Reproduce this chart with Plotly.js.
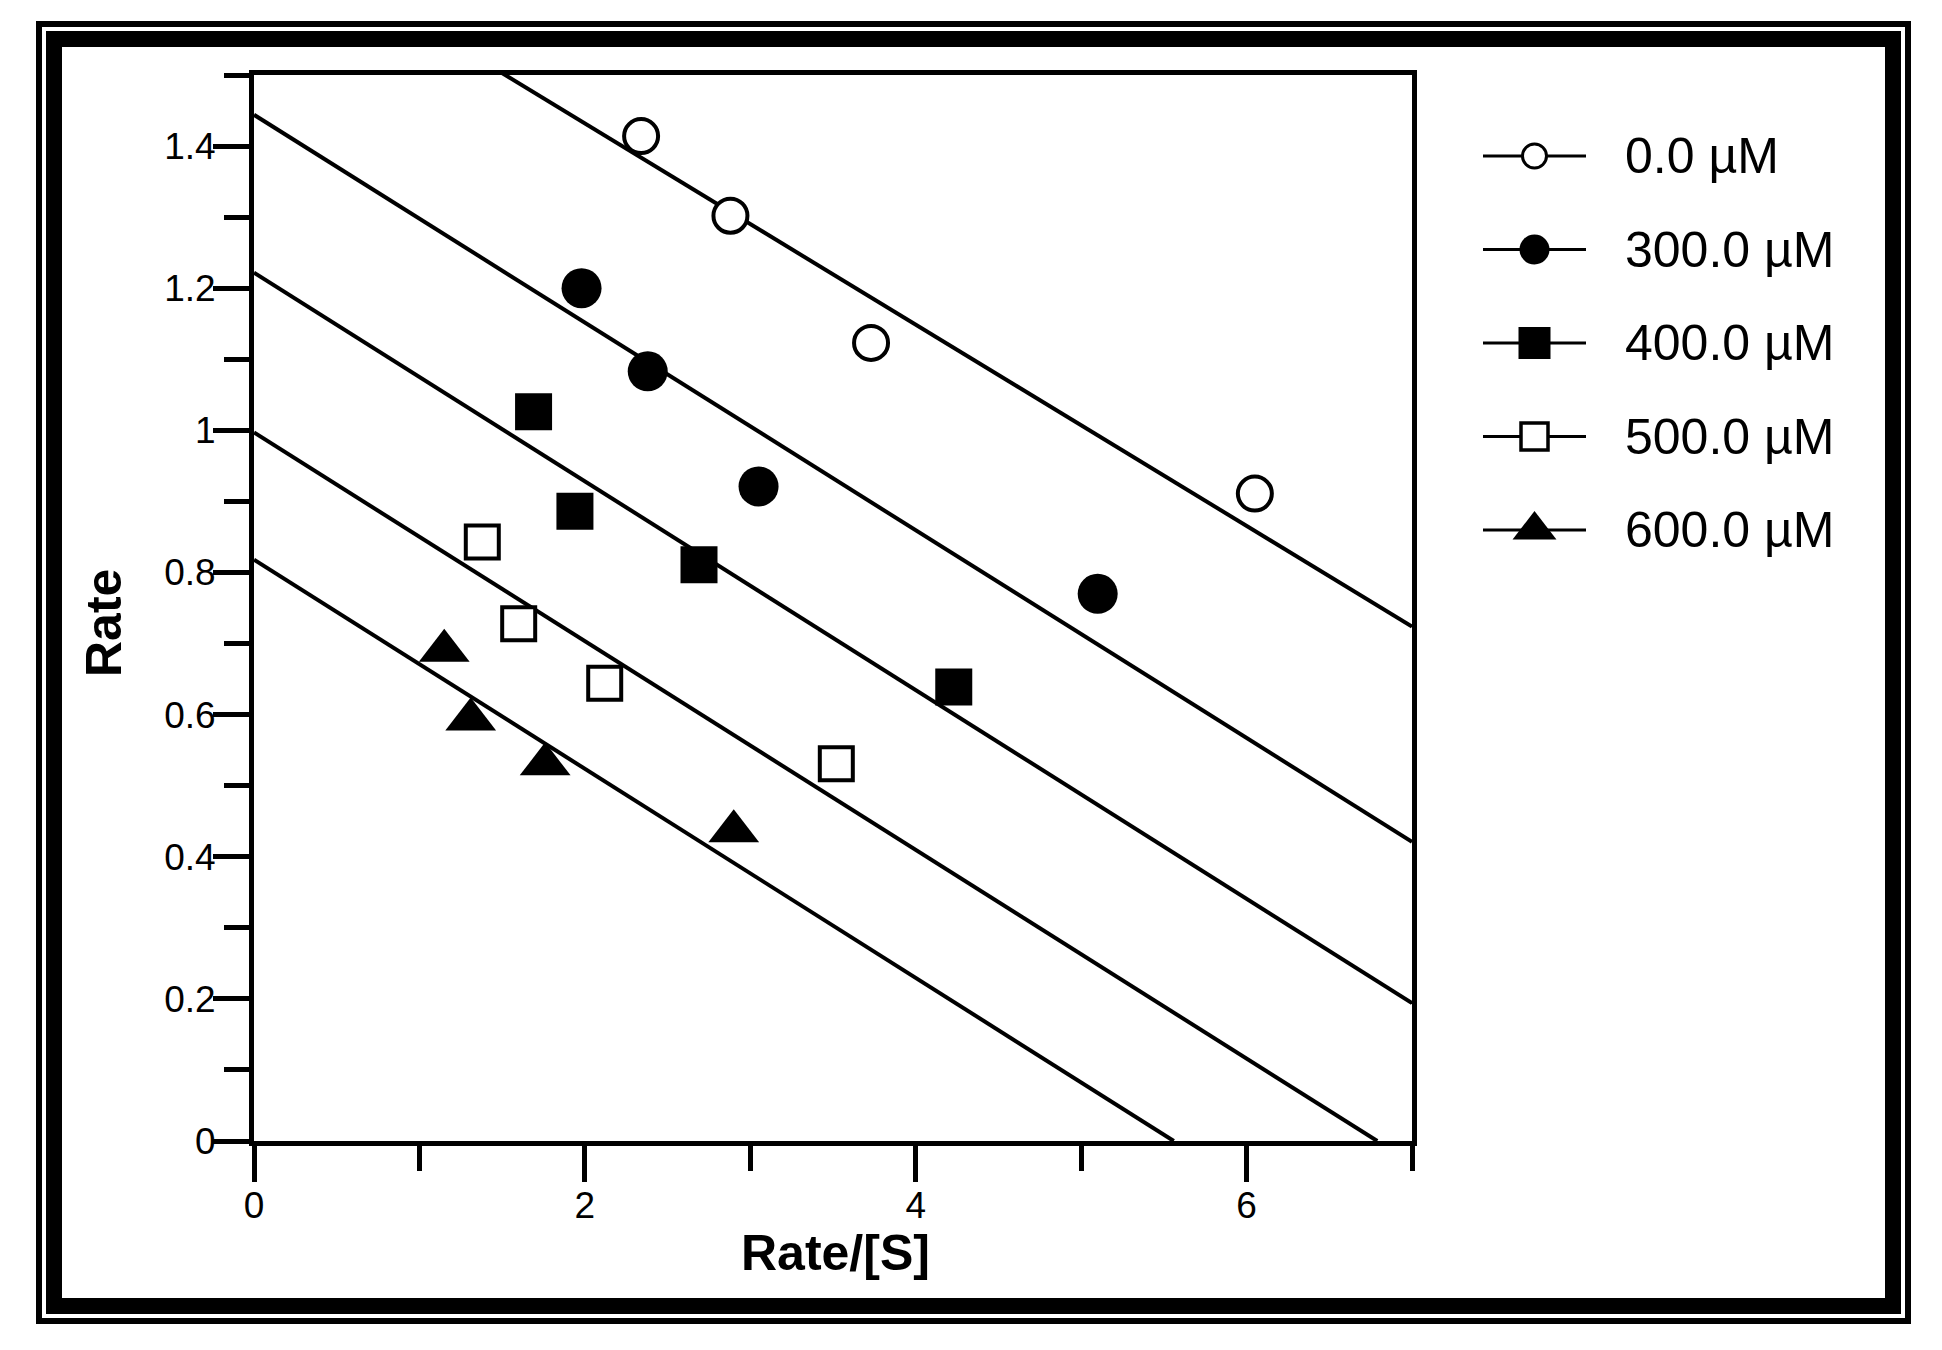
<!DOCTYPE html>
<html>
<head>
<meta charset="utf-8">
<script src="https://cdn.plot.ly/plotly-3.0.1.min.js"></script>
<style>
  html, body { margin: 0; padding: 0; background: #fff; overflow: hidden; }
  #chart { position: absolute; left: 0; top: 0; width: 1942px; height: 1350px; }
  .frame { position: absolute; box-sizing: border-box; border-style: solid; border-color: #000; pointer-events: none; }
  #outer { left: 36px; top: 21px; width: 1875px; height: 1303px; border-width: 6px; }
  #inner { left: 46px; top: 31px; width: 1855px; height: 1283px; border-width: 16px; }
</style>
</head>
<body>
<div id="chart"></div>
<div id="outer" class="frame"></div>
<div id="inner" class="frame"></div>
<script>
// ---- Data ----
const seriesNames = ['0.0 \u00b5M', '300.0 \u00b5M', '400.0 \u00b5M', '500.0 \u00b5M', '600.0 \u00b5M'];

const x0uM   = [2.34, 2.88, 3.73, 6.05];
const y0uM   = [1.414, 1.302, 1.123, 0.911];
const x300uM = [1.98, 2.38, 3.05, 5.10];
const y300uM = [1.200, 1.083, 0.921, 0.770];
const x400uM = [1.69, 1.94, 2.69, 4.23];
const y400uM = [1.026, 0.886, 0.811, 0.639];
const x500uM = [1.38, 1.60, 2.12, 3.52];
const y500uM = [0.843, 0.728, 0.644, 0.531];
const x600uM = [1.15, 1.31, 1.76, 2.90];
const y600uM = [0.690, 0.593, 0.530, 0.436];

// fitted regression lines (end points)
const fit0X   = [0, 7];    const fit0Y   = [1.715, 0.724];
const fit300X = [0, 7];    const fit300Y = [1.444, 0.421];
const fit400X = [0, 7];    const fit400Y = [1.222, 0.194];
const fit500X = [0, 6.79]; const fit500Y = [0.997, 0];
const fit600X = [0, 5.56]; const fit600Y = [0.818, 0];

const xTickVals = [0, 2, 4, 6];
const yTickVals = [0, 0.2, 0.4, 0.6, 0.8, 1, 1.2, 1.4];

// ---- Styles ----
const W = 1942, H = 1350;
const px = v => v / W;
const py = v => 1 - v / H;
const FONT = 'Liberation Sans, Arial, Helvetica, sans-serif';

const xs = [x0uM, x300uM, x400uM, x500uM, x600uM];
const ys = [y0uM, y300uM, y400uM, y500uM, y600uM];
const fx = [fit0X, fit300X, fit400X, fit500X, fit600X];
const fy = [fit0Y, fit300Y, fit400Y, fit500Y, fit600Y];

const plotMarkers = [
  {symbol: 'circle', size: 34, color: '#fff', line: {color: '#000', width: 4}},
  {symbol: 'circle', size: 40, color: '#000', line: {color: '#000', width: 0}},
  {symbol: 'square', size: 37, color: '#000', line: {color: '#000', width: 0}},
  {symbol: 'square', size: 33, color: '#fff', line: {color: '#000', width: 4}},
  {symbol: 'triangle-up', size: 44, color: '#000', line: {color: '#000', width: 0}}
];
const legendMarkers = [
  {symbol: 'circle', size: 24, color: '#fff', line: {color: '#000', width: 3}},
  {symbol: 'circle', size: 30, color: '#000', line: {color: '#000', width: 0}},
  {symbol: 'square', size: 32, color: '#000', line: {color: '#000', width: 0}},
  {symbol: 'square', size: 27, color: '#fff', line: {color: '#000', width: 3.5}},
  {symbol: 'triangle-up', size: 38, color: '#000', line: {color: '#000', width: 0}}
];

const traces = [];
// regression lines (drawn first, under markers)
for (let i = 0; i < 5; i++) {
  traces.push({
    type: 'scatter', mode: 'lines', x: fx[i], y: fy[i],
    line: {color: '#000', width: 4}, showlegend: false, hoverinfo: 'skip',
    xaxis: 'x', yaxis: 'y'
  });
}
// data points
for (let i = 0; i < 5; i++) {
  traces.push({
    type: 'scatter', mode: 'markers', name: seriesNames[i], x: xs[i], y: ys[i],
    marker: plotMarkers[i], showlegend: false, cliponaxis: false,
    xaxis: 'x', yaxis: 'y'
  });
}
// custom legend glyphs: line with marker at the middle
for (let i = 0; i < 5; i++) {
  const m = Object.assign({}, legendMarkers[i], {opacity: [0, 1, 0]});
  traces.push({
    type: 'scatter', mode: 'lines+markers',
    x: [0, 0.5, 1], y: [seriesNames[i], seriesNames[i], seriesNames[i]],
    line: {color: '#000', width: 3}, marker: m,
    showlegend: false, hoverinfo: 'skip', cliponaxis: false,
    xaxis: 'x2', yaxis: 'y2'
  });
}

const legendTop = 156, legendStep = 93.5;
const annotations = [
  {text: '<b>Rate</b>', textangle: -90, xref: 'paper', yref: 'paper',
   x: px(104), y: py(623), xanchor: 'center', yanchor: 'middle', showarrow: false,
   font: {family: FONT, size: 50, color: '#000'}},
  {text: '<b>Rate/[S]</b>', xref: 'paper', yref: 'paper',
   x: px(835), y: py(1253), xanchor: 'center', yanchor: 'middle', showarrow: false,
   font: {family: FONT, size: 50, color: '#000'}}
];
for (let i = 0; i < 5; i++) {
  annotations.push({
    text: seriesNames[i], xref: 'x2', yref: 'y2', x: 1, y: seriesNames[i],
    xanchor: 'left', yanchor: 'middle', xshift: 37, showarrow: false,
    font: {family: FONT, size: 50, color: '#000'}
  });
}

const axisCommon = {
  showline: true, linecolor: '#000', linewidth: 5, mirror: true,
  ticks: 'outside', ticklen: 36, tickwidth: 5, tickcolor: '#000',
  showgrid: false, zeroline: false,
  tickfont: {family: FONT, size: 37, color: '#000'}
};

const layout = {
  width: W, height: H,
  margin: {l: 0, r: 0, t: 0, b: 0, pad: 0},
  paper_bgcolor: '#fff', plot_bgcolor: 'rgba(0,0,0,0)',
  showlegend: false,
  xaxis: Object.assign({}, axisCommon, {
    domain: [px(254), px(1412)], range: [0, 7], anchor: 'y',
    tickmode: 'array', tickvals: xTickVals, ticktext: xTickVals.map(String),
    ticklabelstandoff: -8,
    minor: {dtick: 1, tick0: 0, ticks: 'outside', ticklen: 25, tickwidth: 5, tickcolor: '#000', showgrid: false}
  }),
  yaxis: Object.assign({}, axisCommon, {
    domain: [py(1141), py(75)], range: [0, 1.5], anchor: 'x',
    tickmode: 'array', tickvals: yTickVals, ticktext: yTickVals.map(String),
    ticklabelstandoff: -10,
    minor: {dtick: 0.1, tick0: 0, ticks: 'outside', ticklen: 25, tickwidth: 5, tickcolor: '#000', showgrid: false}
  }),
  xaxis2: {
    domain: [px(1483), px(1586)], range: [0, 1], anchor: 'y2', visible: false, fixedrange: true
  },
  yaxis2: {
    domain: [py(legendTop + legendStep * 4.5), py(legendTop - legendStep * 0.5)],
    type: 'category', categoryorder: 'array', categoryarray: seriesNames,
    range: [4.5, -0.5], anchor: 'x2', visible: false, fixedrange: true
  },
  annotations: annotations
};

Plotly.newPlot('chart', traces, layout, {displayModeBar: false, staticPlot: true});
</script>
</body>
</html>
